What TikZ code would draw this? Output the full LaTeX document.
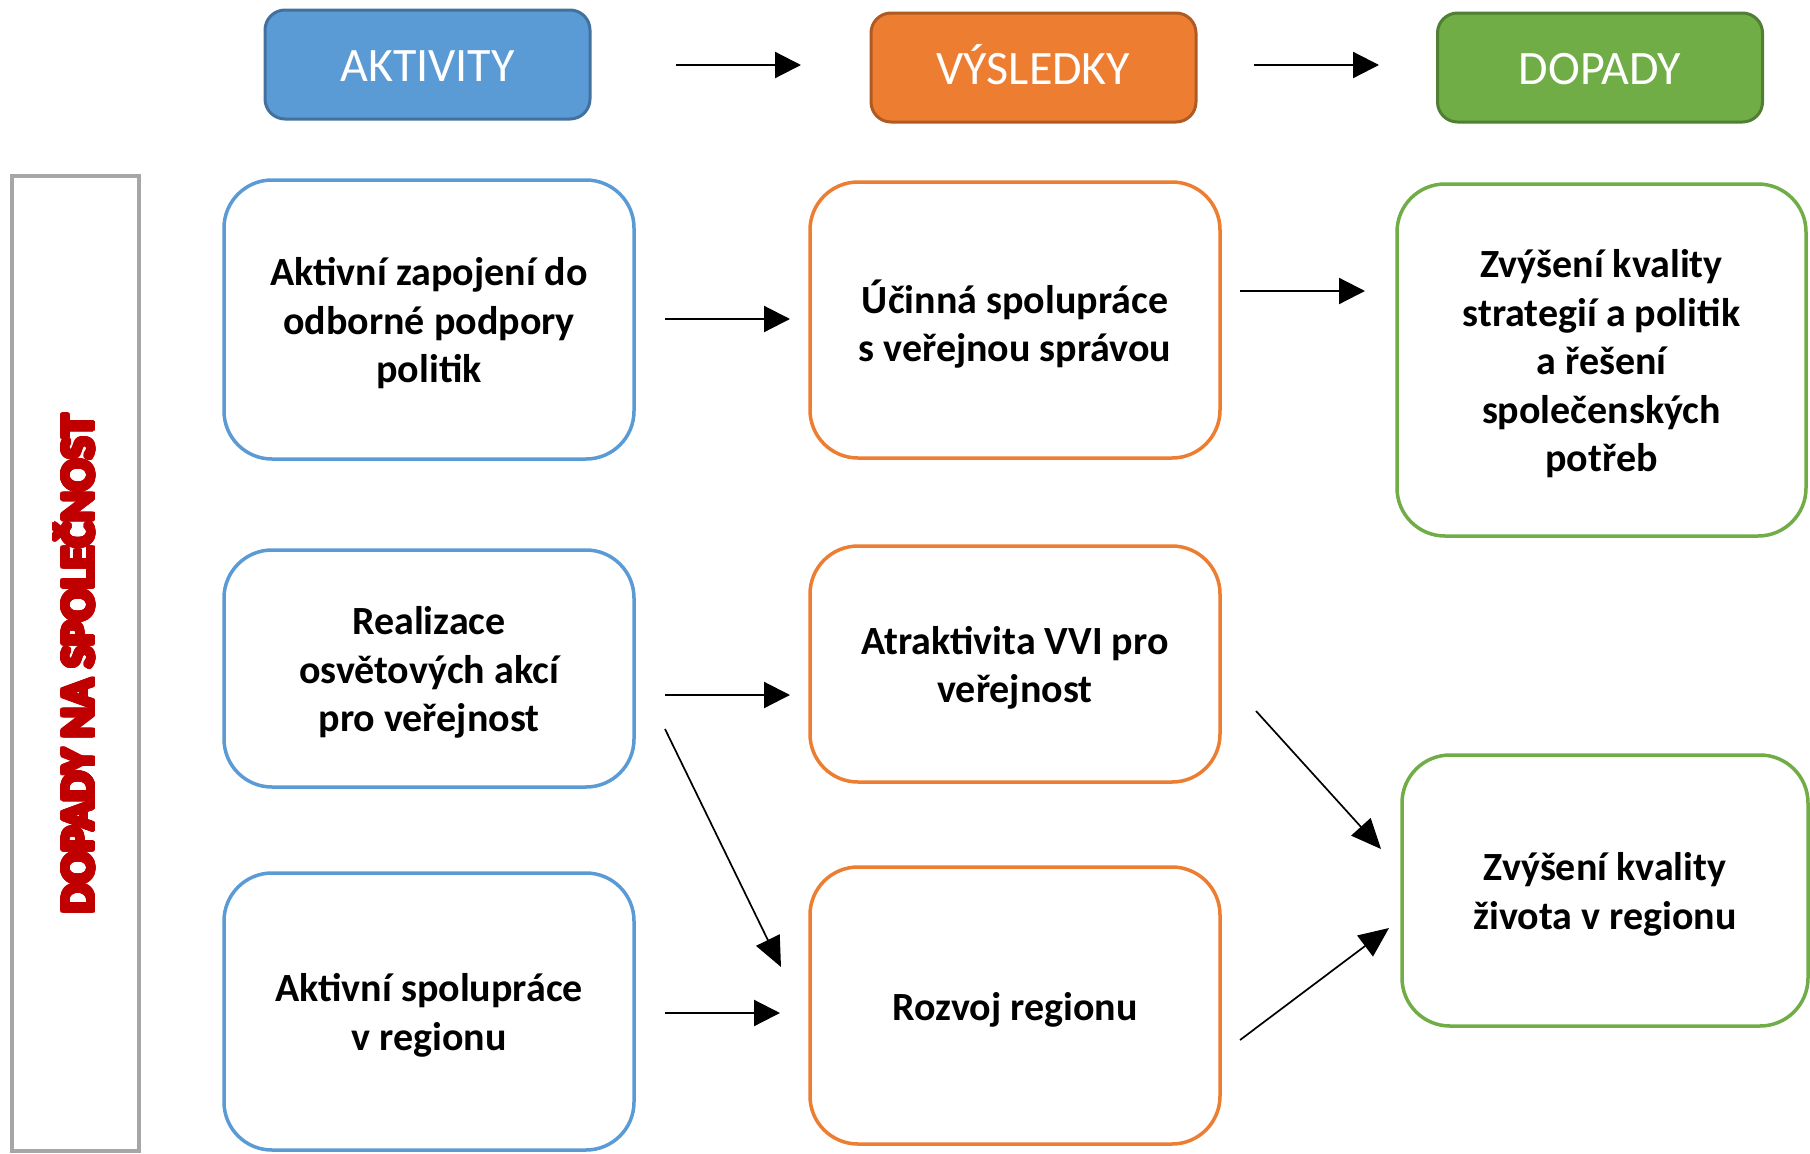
\documentclass[tikz,border=0pt]{standalone}
\usepackage{fontspec}
\setmainfont{Carlito}
\usepackage{contour}
\contourlength{2.3pt}
\contournumber{32}
\usetikzlibrary{arrows.meta}

\definecolor{cblue}{HTML}{5B9BD5}
\definecolor{cbluedk}{HTML}{41719C}
\definecolor{corange}{HTML}{ED7D31}
\definecolor{corangedk}{HTML}{AE5A21}
\definecolor{cgreen}{HTML}{70AD47}
\definecolor{cgreendk}{HTML}{507E32}
\definecolor{cred}{HTML}{C00000}
\definecolor{cgray}{HTML}{A6A6A6}

\begin{document}
\begin{tikzpicture}[x=1pt,y=-1pt,
  hdr/.style={rounded corners=20pt, line width=3pt, minimum width=325pt,
    minimum height=109pt, inner sep=0pt, outer sep=0pt, text=white,
    text height=34pt, text depth=0pt,
    font=\fontsize{48}{58}\selectfont},
  card/.style={rounded corners=48pt, line width=3.5pt, fill=white,
    minimum width=410pt, inner sep=0pt, outer sep=0pt},
  cardtxt/.style={inner sep=0pt, align=center,
    font=\fontsize{40}{48.5}\selectfont\bfseries},
  arr/.style={line width=2.2pt, -{Triangle[length=26pt,width=26pt]}},
  darr/.style={line width=1.7pt, -{Triangle[length=30pt,width=26pt]}}
]
\useasboundingbox (0,0) rectangle (1810,1154);

% side label
\node[draw=cgray, line width=3.5pt, minimum width=127pt, minimum height=975pt,
  inner sep=0pt] (frame) at (75.5,663.5) {};
\node[rotate=90, text=cred, font=\fontsize{47}{50}\selectfont\bfseries]
  (side) at (75.5,664) {\contour{cred}{DOPADY NA SPOLEČNOST}};

% column headers
\node[hdr, fill=cblue, draw=cbluedk] (hA) at (427.5,64.5) {AKTIVITY};
\node[hdr, fill=corange, draw=corangedk] (hV) at (1033.5,67.5) {VÝSLEDKY};
\node[hdr, fill=cgreen, draw=cgreendk] (hD) at (1600,67.5) {DOPADY};

% activities
\node[card, draw=cblue, minimum height=279pt] (A1) at (429,319.5) {};
\node[card, draw=cblue, minimum height=237pt] (A2) at (429,668.5) {};
\node[card, draw=cblue, minimum height=277pt] (A3) at (429,1011.5) {};

% results
\node[card, draw=corange, minimum height=276pt] (R1) at (1015,320) {};
\node[card, draw=corange, minimum height=236pt] (R2) at (1015,664) {};
\node[card, draw=corange, minimum height=277pt] (R3) at (1015,1005.5) {};

% impacts
\node[card, draw=cgreen, minimum width=409pt, minimum height=352pt] (I1) at (1601.5,360) {};
\node[card, draw=cgreen, minimum width=406pt, minimum height=271pt] (I2) at (1605,890.5) {};

% box texts
\node[cardtxt] (A1t) at ([yshift=-4pt]A1.center) {Aktivní zapojení do\\odborné podpory\\politik};
\node[cardtxt] (A2t) at ([yshift=-4pt]A2.center) {Realizace\\osvětových akcí\\pro veřejnost};
\node[cardtxt] (A3t) at ([yshift=-4pt]A3.center) {Aktivní spolupráce\\v regionu};
\node[cardtxt] (R1t) at ([yshift=-4pt]R1.center) {Účinná spolupráce\\s veřejnou správou};
\node[cardtxt] (R2t) at ([yshift=-4pt]R2.center) {Atraktivita VVI pro\\veřejnost};
\node[cardtxt] (R3t) at ([yshift=-4pt]R3.center) {Rozvoj regionu};
\node[cardtxt] (I1t) at ([yshift=-4pt]I1.center)
  {Zvýšení kvality\\strategií a politik\\a řešení\\společenských\\potřeb};
\node[cardtxt] (I2t) at ([yshift=-4pt]I2.center) {Zvýšení kvality\\života v regionu};

% arrow end points
\coordinate (hAo) at (676,65);   \coordinate (hVi) at (801,65);
\coordinate (hVo) at (1254,65);  \coordinate (hDi) at (1379,65);
\coordinate (A1o) at (665,319);  \coordinate (R1i) at (790,319);
\coordinate (R1o) at (1240,291); \coordinate (I1i) at (1365,291);
\coordinate (A2o) at (665,695);  \coordinate (R2i) at (790,695);
\coordinate (A2d) at (665,729);  \coordinate (R3d) at (781,967);
\coordinate (A3o) at (665,1013); \coordinate (R3i) at (780,1013);
\coordinate (R2o) at (1256,711); \coordinate (I2a) at (1381,849);
\coordinate (R3o) at (1240,1040);\coordinate (I2b) at (1389,928);

% connectors
\draw[arr] (hAo) -- (hVi);
\draw[arr] (hVo) -- (hDi);
\draw[arr] (A1o) -- (R1i);
\draw[arr] (R1o) -- (I1i);
\draw[arr] (A2o) -- (R2i);
\draw[darr] (A2d) -- (R3d);
\draw[arr] (A3o) -- (R3i);
\draw[darr] (R2o) -- (I2a);
\draw[darr] (R3o) -- (I2b);
\end{tikzpicture}
\end{document}
